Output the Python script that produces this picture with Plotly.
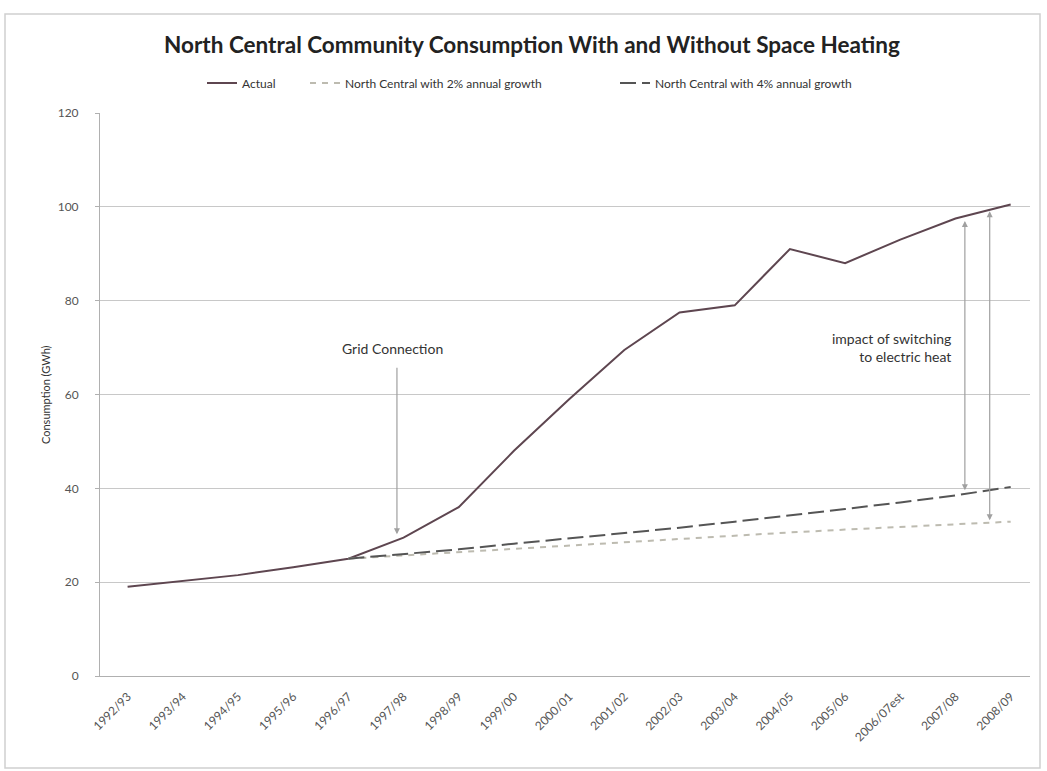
import plotly.graph_objects as go

years = ["1992/93", "1993/94", "1994/95", "1995/96", "1996/97", "1997/98", "1998/99",
         "1999/00", "2000/01", "2001/02", "2002/03", "2003/04", "2004/05", "2005/06",
         "2006/07est", "2007/08", "2008/09"]
actual = [19.0, 20.2, 21.5, 23.2, 25.0, 29.5, 36.0, 48.0, 59.0, 69.5, 77.5, 79.0,
          91.0, 88.0, 93.0, 97.5, 100.5]
growth_years = years[4:]
growth2 = [25.0, 25.7, 26.5, 27.2, 27.9, 28.6, 29.3, 30.0, 30.6, 31.2, 31.8, 32.3, 32.9]
growth4 = [25.0, 26.0, 27.0, 28.2, 29.3, 30.4, 31.6, 32.9, 34.2, 35.6, 37.0, 38.5, 40.3]
y_ticks = [0, 20, 40, 60, 80, 100, 120]

FONT = "Lato"
W, H = 1047, 771
L, R, T, B = 100, 1030, 113, 676

def px_x(p):
    return (p - L) / (R - L)

def px_y(p):
    return (B - p) / (B - T)

fig = go.Figure()
fig.add_trace(go.Scatter(x=years, y=actual, mode="lines", name="Actual",
                         line=dict(color="#5e4650", width=2), legend="legend"))
fig.add_trace(go.Scatter(x=growth_years, y=growth2, mode="lines",
                         name="North Central with 2% annual growth",
                         line=dict(color="#bdbbb0", width=2, dash="6px,6px"), legend="legend2"))
fig.add_trace(go.Scatter(x=growth_years, y=growth4, mode="lines",
                         name="North Central with 4% annual growth",
                         line=dict(color="#555555", width=2, dash="16px,6px"), legend="legend3"))

legend_common = dict(orientation="h", yanchor="middle", xanchor="left",
                     font=dict(family=FONT, size=12, color="#333333"),
                     bgcolor="rgba(0,0,0,0)", itemwidth=30)
fig.update_layout(
    width=W, height=H,
    margin=dict(l=L, r=W - R, t=T, b=H - B),
    paper_bgcolor="white", plot_bgcolor="white",
    title=dict(text="<b>North Central Community Consumption With and Without Space Heating</b>",
               x=532 / W, xref="container", xanchor="center", y=1 - 45 / H, yanchor="middle",
               font=dict(family=FONT, size=22.5, color="#222222")),
    legend=dict(x=px_x(202), y=px_y(83), **legend_common),
    legend2=dict(x=px_x(305), y=px_y(83), **legend_common),
    legend3=dict(x=px_x(615), y=px_y(83), **legend_common),
    showlegend=True,
    xaxis=dict(type="category", categoryarray=years, range=[-0.5, 16.35],
               showgrid=False, showline=True, linecolor="#b0b0b0", linewidth=1,
               ticks="", tickangle=-45, ticklabelstandoff=8,
               tickfont=dict(family=FONT, size=12, color="#555555")),
    yaxis=dict(range=[0, 120], tickvals=y_ticks, showgrid=True, gridcolor="#c8c8c8",
               gridwidth=1, showline=True, linecolor="#b0b0b0", linewidth=1,
               ticks="outside", ticklen=4, tickcolor="#b0b0b0", zeroline=False,
               ticklabelstandoff=14,
               tickfont=dict(family=FONT, size=12, color="#555555")),
)
fig.add_annotation(x=px_x(37), y=0.5, xref="paper", yref="paper", textangle=-90,
                   text="Consumption (GWh)", showarrow=False,
                   font=dict(family=FONT, size=11, color="#333333"))

# outer frame
fig.add_shape(type="rect", xref="paper", yref="paper",
              x0=px_x(5), x1=px_x(1040), y0=px_y(768), y1=px_y(14),
              line=dict(color="#d0d0d0", width=1.5), layer="below")

arrow_color = "#a0a0a0"
# Grid connection arrow
fig.add_annotation(x=4.88, y=30.2, ax=4.88, ay=66, xref="x", yref="y", axref="x", ayref="y",
                   text="", showarrow=True, arrowhead=2, arrowsize=1, arrowwidth=1.2,
                   arrowcolor=arrow_color)
fig.add_annotation(x=4.8, y=69.8, xref="x", yref="y", text="Grid Connection", showarrow=False,
                   font=dict(family=FONT, size=14, color="#333333"))

# impact arrows
fig.add_annotation(x=15.17, y=39.6, ax=15.17, ay=97.3, xref="x", yref="y", axref="x", ayref="y",
                   text="", showarrow=True, arrowhead=2, startarrowhead=2, arrowside="end+start",
                   arrowwidth=1.2, arrowcolor=arrow_color)
fig.add_annotation(x=15.62, y=33.2, ax=15.62, ay=99.4, xref="x", yref="y", axref="x", ayref="y",
                   text="", showarrow=True, arrowhead=2, startarrowhead=2, arrowside="end+start",
                   arrowwidth=1.2, arrowcolor=arrow_color)
fig.add_annotation(x=14.95, y=70.0, xref="x", yref="y", xanchor="right", align="right",
                   text="impact of switching<br>to electric heat", showarrow=False,
                   font=dict(family=FONT, size=14, color="#333333"))

fig.write_html("out.html")
